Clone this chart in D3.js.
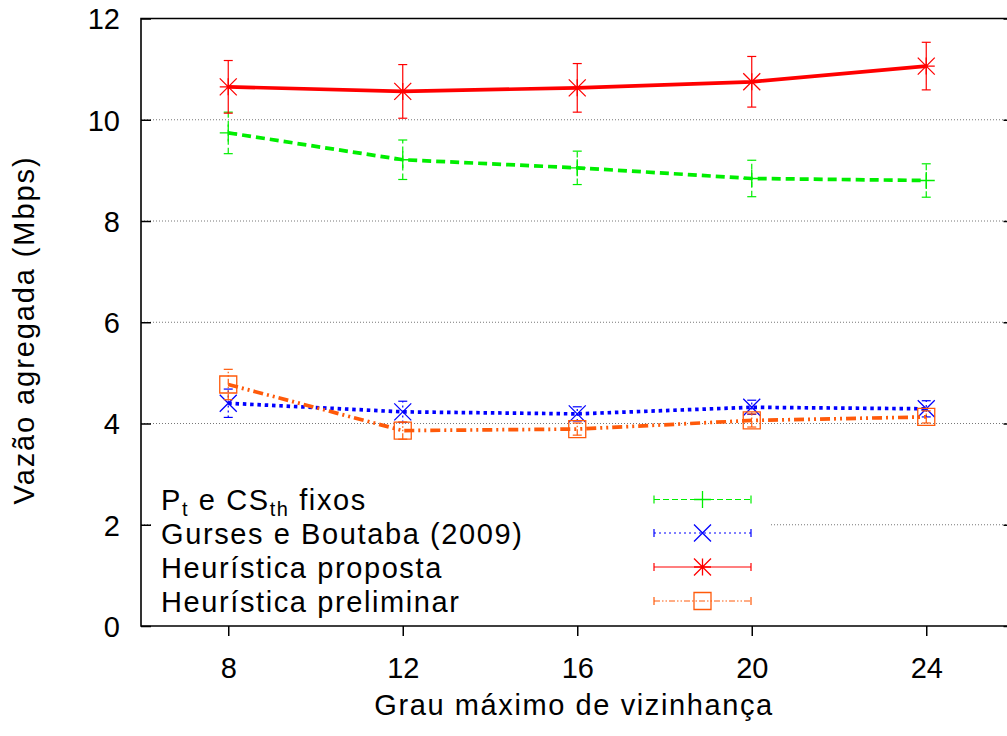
<!DOCTYPE html>
<html>
<head>
<meta charset="utf-8">
<script src="https://cdn.jsdelivr.net/npm/d3@7"></script>
<style>
  html, body { margin: 0; padding: 0; background: #fff; }
  svg { display: block; }
  text { font-family: "Liberation Sans", Arial, Helvetica, sans-serif; fill: #000; }
</style>
</head>
<body>
<svg id="chart" width="1007" height="736"></svg>
<script>
// Neighbourhood degree on the x axis
const graus = [8, 12, 16, 20, 24];
const xTicks = [8, 12, 16, 20, 24];
const yTicks = [0, 2, 4, 6, 8, 10, 12];

// Aggregate throughput (Mbps) and confidence half-widths per method
const fixos = [9.74, 9.21, 9.05, 8.84, 8.80];
const fixosErr = [0.41, 0.39, 0.33, 0.36, 0.33];
const gurses = [4.40, 4.23, 4.19, 4.32, 4.29];
const gursesErr = [0.28, 0.21, 0.14, 0.14, 0.16];
const proposta = [10.65, 10.56, 10.63, 10.75, 11.06];
const propostaErr = [0.52, 0.53, 0.48, 0.50, 0.47];
const preliminar = [4.77, 3.86, 3.89, 4.06, 4.13];
const preliminarErr = [0.30, 0.17, 0.12, 0.13, 0.12];

const svg = d3.select("#chart");
const plotLeft = 141, plotRight = 1013.5, plotTop = 18.5, plotBottom = 626;

const x = d3.scaleLinear().domain([6, 26]).range([plotLeft, plotRight]);
const y = d3.scaleLinear().domain([0, 12]).range([plotBottom, plotTop]);

const FONT = 29;

// dotted grid
svg.append("g").selectAll("line")
  .data(yTicks.filter(t => t > 0 && t < 12))
  .join("line")
  .attr("x1", plotLeft).attr("x2", plotRight)
  .attr("y1", d => y(d)).attr("y2", d => y(d))
  .attr("stroke", "#777").attr("stroke-width", 1)
  .attr("stroke-dasharray", "1,2");

// y axis ticks (inside, mirrored) and labels
const yAxisL = d3.axisLeft(y).tickValues(yTicks).tickSize(-10).tickPadding(21).tickFormat(d3.format("d"));
const gy = svg.append("g").attr("transform", `translate(${plotLeft},0)`).call(yAxisL);
gy.select(".domain").remove();
gy.selectAll(".tick line").attr("stroke", "#000").attr("stroke-width", 1.5);
gy.selectAll(".tick text").attr("font-size", FONT).attr("dy", "0.36em")
  .style("font-family", '"Liberation Sans", Arial, sans-serif');

const yAxisR = d3.axisRight(y).tickValues(yTicks).tickSize(-10).tickFormat("");
const gyr = svg.append("g").attr("transform", `translate(${plotRight},0)`).call(yAxisR);
gyr.select(".domain").remove();
gyr.selectAll(".tick line").attr("stroke", "#000").attr("stroke-width", 1.5);

// x axis ticks (outside) and labels
const xAxis = d3.axisBottom(x).tickValues(xTicks).tickSize(10).tickPadding(21).tickFormat(d3.format("d"));
const gx = svg.append("g").attr("transform", `translate(0,${plotBottom})`).call(xAxis);
gx.select(".domain").remove();
gx.selectAll(".tick line").attr("stroke", "#000").attr("stroke-width", 1.5);
gx.selectAll(".tick text").attr("font-size", FONT)
  .style("font-family", '"Liberation Sans", Arial, sans-serif');

// legend background hides the grid underneath it
svg.append("rect").attr("x", 153).attr("y", 478).attr("width", 617).attr("height", 140).attr("fill", "#fff");

const series = [
  { name: "fixos", vals: fixos, err: fixosErr, color: "#00ee00", dash: "9,5", errDash: "6,3", marker: "plus" },
  { name: "gurses", vals: gurses, err: gursesErr, color: "#0000ff", dash: "3.5,3.8", errDash: "2,3", marker: "cross" },
  { name: "proposta", vals: proposta, err: propostaErr, color: "#ff0000", dash: null, errDash: null, marker: "star" },
  { name: "preliminar", vals: preliminar, err: preliminarErr, color: "#ff5a0a", dash: "10,4,2,4,2,4", errDash: "6,2,1.5,2,1.5,2", marker: "square" }
];

function markerPath(type, cx, cy) {
  const p = d3.path();
  const h = 8.5;
  if (type === "plus" || type === "star") {
    p.moveTo(cx - h, cy); p.lineTo(cx + h, cy);
    p.moveTo(cx, cy - h); p.lineTo(cx, cy + h);
  }
  if (type === "cross" || type === "star") {
    p.moveTo(cx - h, cy - h); p.lineTo(cx + h, cy + h);
    p.moveTo(cx - h, cy + h); p.lineTo(cx + h, cy - h);
  }
  if (type === "square") {
    p.rect(cx - h, cy - h, 2 * h, 2 * h);
  }
  return p.toString();
}

const line = d3.line().x((d, i) => x(graus[i])).y(d => y(d));

series.forEach(s => {
  const g = svg.append("g");
  // error bars
  const eb = g.append("g").selectAll("g").data(s.vals).join("g");
  eb.append("line")
    .attr("x1", (d, i) => x(graus[i])).attr("x2", (d, i) => x(graus[i]))
    .attr("y1", (d, i) => y(d - s.err[i])).attr("y2", (d, i) => y(d + s.err[i]))
    .attr("stroke", s.color).attr("stroke-width", 1.2)
    .attr("stroke-dasharray", s.errDash);
  [-1, 1].forEach(sign => {
    eb.append("line")
      .attr("x1", (d, i) => x(graus[i]) - 4.5).attr("x2", (d, i) => x(graus[i]) + 4.5)
      .attr("y1", (d, i) => y(d + sign * s.err[i])).attr("y2", (d, i) => y(d + sign * s.err[i]))
      .attr("stroke", s.color).attr("stroke-width", 1.2);
  });
  // main line
  g.append("path").datum(s.vals)
    .attr("d", line).attr("fill", "none")
    .attr("stroke", s.color).attr("stroke-width", 3.7)
    .attr("stroke-dasharray", s.dash);
  // markers
  g.append("g").selectAll("path").data(s.vals).join("path")
    .attr("d", (d, i) => markerPath(s.marker, x(graus[i]), y(d)))
    .attr("fill", "none").attr("stroke", s.color).attr("stroke-width", 1.3);
});

// frame
svg.append("path")
  .attr("d", `M${plotRight},${plotTop}H${plotLeft}V${plotBottom}H${plotRight}`)
  .attr("fill", "none").attr("stroke", "#000").attr("stroke-width", 1.6);

// legend
const legendRows = [499.5, 533, 567, 601];
const legend = svg.append("g");
series.forEach((s, k) => {
  const ly = legendRows[k];
  const x0 = 654, x1 = 751, xm = 702.5;
  legend.append("line").attr("x1", x0).attr("x2", x1).attr("y1", ly).attr("y2", ly)
    .attr("stroke", s.color).attr("stroke-width", 1.2).attr("stroke-dasharray", s.errDash);
  [x0, x1].forEach(xx => legend.append("line")
    .attr("x1", xx).attr("x2", xx).attr("y1", ly - 4).attr("y2", ly + 4)
    .attr("stroke", s.color).attr("stroke-width", 1.2));
  legend.append("path").attr("d", markerPath(s.marker, xm, ly))
    .attr("fill", "none").attr("stroke", s.color).attr("stroke-width", 1.3);
});

const lt = legend.append("g").attr("font-size", FONT).attr("letter-spacing", "1.6px");
const t0 = lt.append("text").attr("x", 161).attr("y", legendRows[0] + 10.5);
t0.append("tspan").text("P");
t0.append("tspan").attr("font-size", 20).attr("dy", 6).text("t");
t0.append("tspan").attr("dy", -6).text(" e CS");
t0.append("tspan").attr("font-size", 20).attr("dy", 6).text("th");
t0.append("tspan").attr("dy", -6).text(" fixos");
lt.append("text").attr("x", 161).attr("y", legendRows[1] + 10.5).text("Gurses e Boutaba (2009)");
lt.append("text").attr("x", 161).attr("y", legendRows[2] + 10.5).text("Heurística proposta");
lt.append("text").attr("x", 161).attr("y", legendRows[3] + 10.5).text("Heurística preliminar");

// axis titles
svg.append("text").attr("x", 574).attr("y", 715).attr("text-anchor", "middle")
  .attr("font-size", FONT).attr("letter-spacing", "1.6px")
  .text("Grau máximo de vizinhança");
svg.append("text").attr("transform", "translate(34,330) rotate(-90)").attr("text-anchor", "middle")
  .attr("font-size", FONT).attr("letter-spacing", "1.9px")
  .text("Vazão agregada (Mbps)");
</script>
</body>
</html>
